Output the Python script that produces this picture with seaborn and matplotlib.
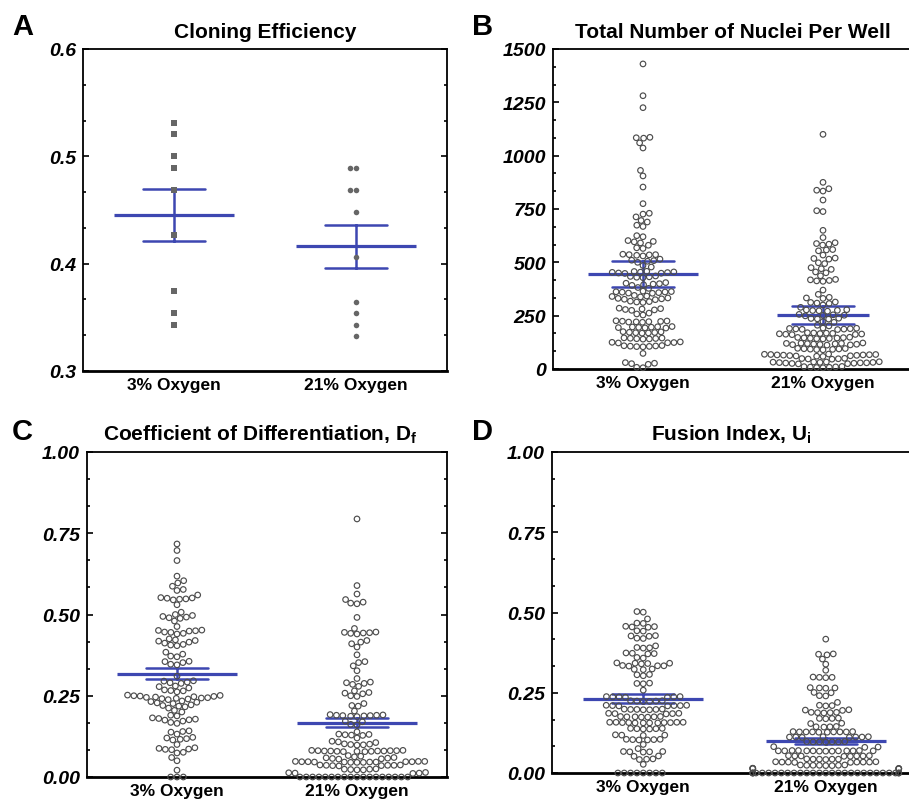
import warnings
warnings.filterwarnings("ignore")
import numpy as np
import pandas as pd
import matplotlib
matplotlib.use("Agg")
import matplotlib.pyplot as plt
from matplotlib.ticker import AutoMinorLocator
import seaborn as sns

# ---------------- data ----------------
categories = ["3% Oxygen", "21% Oxygen"]

clone_3 = [0.531, 0.521, 0.500, 0.489, 0.469, 0.427, 0.375, 0.354, 0.343]
clone_21 = [0.489, 0.489, 0.469, 0.469, 0.448, 0.406, 0.364, 0.354, 0.343, 0.333]
clone_mean = [0.4455, 0.4163]
clone_sem = [0.0243, 0.0200]

nuclei_3 = [1430, 1281, 1225, 1086, 1084, 1082, 1060, 1036, 931, 905, 853, 775,
            730, 726, 713, 696, 689, 674, 668,
            625, 620, 602, 598, 596, 591, 580, 568, 565,
            538, 536, 536, 535, 533, 530,
            515, 510, 508, 505, 500, 485, 478,
            458, 457, 455, 454, 453, 452, 450, 449, 448,
            436, 434, 432, 430, 428,
            405, 402, 400, 398, 395, 392,
            382, 378,
            365, 363, 362, 361, 360, 358, 356, 355,
            345, 342, 340, 338,
            333, 331, 329, 327, 325,
            318, 316, 314, 312,
            285, 283, 281, 279, 277, 275,
            262, 258, 253,
            226, 225, 224, 223, 222, 221, 220, 219,
            199, 198, 197, 196, 195, 194, 193, 192,
            175, 174, 172, 171, 170, 169, 168,
            146, 145, 144, 143, 142, 141, 140,
            127, 125, 124, 123, 122,
            110, 109, 108, 107, 106, 105, 104,
            73, 30, 27, 25, 22, 8, 6]
nuclei_21 = [1100, 875, 845, 838, 834, 792, 742, 738, 650,
             616, 592, 588, 585, 581, 560, 558, 554, 534, 520, 518, 515, 498, 494,
             475, 470, 467, 455, 451,
             437, 420, 418, 415, 413, 411,
             370, 350, 336, 333, 331,
             314, 312, 309, 307, 300, 289,
             278, 277, 275, 274, 273, 271,
             256, 254, 252, 251, 249,
             238, 237, 235, 234, 222, 219,
             205, 202,
             192, 191, 190, 189, 188, 187, 186, 185,
             170, 169, 168, 167, 166, 165, 164, 163, 162, 161,
             149, 148, 147, 146, 145, 144, 143, 142, 141,
             122, 121, 120, 120, 119, 118, 117, 116, 115, 114, 113, 112,
             97, 96, 95, 94, 93, 92, 91, 90,
             70, 69, 68, 68, 67, 66, 66, 65, 64, 63, 62, 61, 60, 59,
             50, 49, 48, 47, 46,
             34, 33, 33, 32, 31, 31, 30, 29, 29, 28, 27, 26, 25, 24,
             12, 11, 10, 9, 8, 7, 6]
nuclei_mean = [444, 254]
nuclei_sem = [60, 41]

diff_3 = [0.717, 0.697, 0.666, 0.618, 0.604, 0.597, 0.587, 0.577, 0.574,
          0.560, 0.552, 0.550, 0.548, 0.547, 0.545, 0.551,
          0.530, 0.507,
          0.497, 0.494, 0.490, 0.488, 0.492, 0.500, 0.480,
          0.463, 0.452, 0.450, 0.446, 0.442, 0.440, 0.445, 0.449, 0.451,
          0.425, 0.422, 0.418, 0.412, 0.408, 0.404, 0.406, 0.415, 0.420,
          0.384, 0.378, 0.372, 0.370,
          0.356, 0.352, 0.347, 0.345, 0.355,
          0.310,
          0.295, 0.290, 0.288, 0.292, 0.296, 0.280, 0.278, 0.274,
          0.268, 0.265, 0.262, 0.266,
          0.252, 0.250, 0.248, 0.246, 0.244, 0.242, 0.240, 0.238, 0.241, 0.243,
          0.245, 0.247, 0.249, 0.251,
          0.234, 0.232, 0.230, 0.228, 0.226,
          0.222, 0.220, 0.218, 0.216, 0.212,
          0.205, 0.200,
          0.190, 0.188, 0.182, 0.180, 0.178, 0.176, 0.175, 0.172,
          0.168, 0.165,
          0.142, 0.140, 0.138,
          0.132, 0.122, 0.120, 0.118, 0.116, 0.114,
          0.100,
          0.090, 0.088, 0.086, 0.085, 0.084,
          0.076, 0.074, 0.060,
          0.050, 0.021,
          0.0, 0.0, 0.0]
diff_21 = [0.794, 0.589, 0.563, 0.546, 0.535, 0.533, 0.538, 0.491,
           0.457, 0.446, 0.444, 0.442, 0.440, 0.445, 0.443,
           0.420, 0.415, 0.410, 0.400,
           0.376, 0.355, 0.352, 0.342, 0.327,
           0.303, 0.292, 0.290, 0.288, 0.285, 0.279,
           0.265, 0.260, 0.258, 0.256, 0.250, 0.248,
           0.226, 0.220, 0.218, 0.203,
           0.192, 0.191, 0.190, 0.189, 0.188, 0.187, 0.186, 0.190, 0.189,
           0.172, 0.170, 0.162, 0.160,
           0.139, 0.132, 0.130, 0.128, 0.131, 0.129, 0.120,
           0.108, 0.106, 0.110, 0.100, 0.098, 0.102, 0.101, 0.099,
           0.082, 0.081, 0.080, 0.079, 0.078, 0.080, 0.081, 0.079, 0.082, 0.080,
           0.078, 0.081, 0.080, 0.079,
           0.066, 0.064, 0.062, 0.060, 0.058, 0.056, 0.055, 0.057, 0.059,
           0.048, 0.047, 0.046, 0.045, 0.047, 0.046, 0.048, 0.045, 0.047, 0.046,
           0.045, 0.048, 0.047, 0.046,
           0.036, 0.035, 0.037, 0.034, 0.036, 0.035, 0.037, 0.036,
           0.024, 0.022, 0.025, 0.023, 0.024, 0.022,
           0.013, 0.012, 0.011, 0.014, 0.012,
           0.0, 0.0, 0.0, 0.0, 0.0, 0.0, 0.0, 0.0, 0.0, 0.0, 0.0, 0.0, 0.0, 0.0,
           0.0, 0.0, 0.0, 0.0]
diff_mean = [0.3175, 0.1675]
diff_sem = [0.0165, 0.0135]

fusion_3 = [0.501, 0.503, 0.480, 0.467, 0.466, 0.456, 0.455, 0.457, 0.454,
            0.443, 0.442, 0.427, 0.426, 0.428, 0.420, 0.419, 0.396,
            0.390, 0.389, 0.391, 0.373, 0.372, 0.374, 0.371, 0.360, 0.358,
            0.342, 0.341, 0.343, 0.340, 0.342, 0.334, 0.333, 0.335, 0.334,
            0.323, 0.322, 0.324, 0.307, 0.306, 0.303, 0.279, 0.278, 0.280, 0.258,
            0.237, 0.236, 0.238, 0.237, 0.236, 0.238, 0.237,
            0.224, 0.225, 0.223, 0.224, 0.225, 0.223,
            0.210, 0.211, 0.209, 0.210, 0.211, 0.209, 0.210,
            0.198, 0.197, 0.199, 0.198, 0.197, 0.199, 0.198,
            0.185, 0.186, 0.184, 0.185, 0.186,
            0.175, 0.174, 0.176, 0.175, 0.174, 0.176, 0.175,
            0.157, 0.158, 0.156, 0.157, 0.158, 0.156, 0.157, 0.158, 0.156, 0.157,
            0.158, 0.156,
            0.138, 0.139, 0.137, 0.138, 0.139, 0.137,
            0.118, 0.119, 0.117, 0.118,
            0.104, 0.105, 0.103, 0.104, 0.105, 0.103,
            0.089, 0.076,
            0.066, 0.067, 0.065, 0.066, 0.067,
            0.052, 0.053, 0.043, 0.044, 0.042, 0.027,
            0.0, 0.0, 0.0, 0.0, 0.0, 0.0, 0.0, 0.0]
fusion_21 = [0.417, 0.371, 0.370, 0.368, 0.355, 0.339, 0.320,
             0.298, 0.299, 0.297, 0.298,
             0.265, 0.266, 0.264, 0.265,
             0.250, 0.251, 0.240, 0.241, 0.220,
             0.210, 0.211, 0.209, 0.196, 0.197, 0.195,
             0.188, 0.189, 0.187, 0.188, 0.189,
             0.170, 0.171, 0.169, 0.170,
             0.154, 0.155, 0.144, 0.145, 0.143, 0.144,
             0.128, 0.128, 0.129, 0.127, 0.128, 0.128, 0.129, 0.127, 0.128, 0.128,
             0.112, 0.112, 0.113, 0.111, 0.112, 0.112, 0.113, 0.111,
             0.097, 0.097, 0.098, 0.096, 0.097, 0.097, 0.098,
             0.081, 0.082, 0.080,
             0.069, 0.069, 0.070, 0.068, 0.069, 0.069, 0.070, 0.068, 0.069, 0.069,
             0.070, 0.068, 0.069, 0.069,
             0.053, 0.053, 0.054, 0.052, 0.053, 0.053, 0.054, 0.052,
             0.043, 0.043, 0.044, 0.042, 0.043, 0.043,
             0.034, 0.034, 0.035, 0.033, 0.034, 0.034, 0.035, 0.033, 0.034,
             0.024, 0.024, 0.025, 0.023, 0.024, 0.024, 0.025, 0.023,
             0.014, 0.014, 0.015, 0.013, 0.014, 0.014,
             0.0, 0.0, 0.0, 0.0, 0.0, 0.0, 0.0, 0.0, 0.0, 0.0, 0.0, 0.0, 0.0, 0.0,
             0.0, 0.0, 0.0, 0.0, 0.0, 0.0, 0.0, 0.0, 0.0, 0.0, 0.0, 0.0, 0.0, 0.0]
fusion_mean = [0.232, 0.100]
fusion_sem = [0.013, 0.010]

# ---------------- style ----------------
sns.set_style("white")
plt.rcParams["font.family"] = ["Liberation Sans", "DejaVu Sans"]
plt.rcParams["mathtext.fontset"] = "custom"
plt.rcParams["mathtext.rm"] = "Liberation Sans"
plt.rcParams["mathtext.bf"] = "Liberation Sans:bold"
plt.rcParams["mathtext.it"] = "Liberation Sans:italic"
for key in ["text.color", "axes.labelcolor", "xtick.color", "ytick.color",
            "axes.edgecolor"]:
    plt.rcParams[key] = "black"

W, H = 909, 803
fig = plt.figure(figsize=(W / 100, H / 100), dpi=100)
fig.patch.set_facecolor("white")

BLUE = "#3D47B1"
EDGE = "#4d4d4d"
SWARM_SIZE = 3.5     # spacing used by the beeswarm layout
DRAW_SIZE = 4.0      # ring size actually drawn (rings may touch, like the original)
hollow_collections = []


def add_ax(l, t, r, b):
    return fig.add_axes([l / W, 1 - b / H, (r - l) / W, (b - t) / H])


def frame(v3, v21):
    return pd.DataFrame({"group": [categories[0]] * len(v3) + [categories[1]] * len(v21),
                         "value": list(v3) + list(v21)})


def hollow_swarm(ax, v3, v21):
    sns.swarmplot(data=frame(v3, v21), x="group", y="value", order=categories,
                  size=SWARM_SIZE, color="white", edgecolor=EDGE, linewidth=0.85,
                  ax=ax)
    for c in ax.collections:
        c.set_facecolor("none")
        c.set_edgecolor(EDGE)
        c.set_clip_on(False)
        hollow_collections.append(c)


def summary(ax, means, sems, widths_px):
    for i, cat in enumerate(categories):
        d = pd.DataFrame({"group": [cat, cat],
                          "value": [means[i] - sems[i], means[i] + sems[i]]})
        sns.pointplot(data=d, x="group", y="value", order=categories,
                      estimator="mean", errorbar=("pi", 100), capsize=0.34,
                      marker="_", markersize=widths_px[i] / 1.389,
                      markeredgewidth=2.3, linestyle="none", color=BLUE,
                      err_kws={"linewidth": 1.8}, ax=ax)


def style(ax, ylim, yticks, ylabels, title, tx=0.5, right_ticks=True):
    ax.set_xlim(-0.5, 1.5)
    ax.set_ylim(*ylim)
    ax.set_yticks(yticks)
    ax.set_yticklabels(ylabels, fontsize=14, fontweight="bold", fontstyle="italic",
                       color="black")
    ax.yaxis.set_minor_locator(AutoMinorLocator(3))
    ax.set_xticks([0, 1])
    ax.set_xticklabels(categories, fontsize=12.5, fontweight="bold", color="black")
    ax.set_xlabel("")
    ax.set_ylabel("")
    ax.tick_params(axis="y", which="both", direction="in", left=True,
                   right=right_ticks, width=1.2, color="black", pad=5)
    ax.tick_params(axis="y", which="major", length=4)
    ax.tick_params(axis="y", which="minor", length=2.5)
    ax.tick_params(axis="x", length=0, pad=4)
    for s in ["left", "right", "top"]:
        ax.spines[s].set_linewidth(1.3)
        ax.spines[s].set_color("black")
    ax.spines["bottom"].set_linewidth(2.0)
    ax.spines["bottom"].set_color("black")
    ax.set_title(title, fontsize=15, fontweight="bold", pad=9, color="black", x=tx)


# Panel A
axA = add_ax(83, 50, 447, 372)
sns.swarmplot(x=[categories[0]] * len(clone_3), y=clone_3, order=categories,
              marker="s", size=4.6, color="#666666", linewidth=0, ax=axA)
sns.swarmplot(x=[categories[1]] * len(clone_21), y=clone_21, order=categories,
              marker="o", size=4.0, color="#666666", linewidth=0, ax=axA)
summary(axA, clone_mean, clone_sem, [121, 121])
style(axA, (0.3, 0.6), [0.3, 0.4, 0.5, 0.6], ["0.3", "0.4", "0.5", "0.6"],
      "Cloning Efficiency")

# Panel B
axB = add_ax(553, 50, 913, 370)
hollow_swarm(axB, nuclei_3, nuclei_21)
summary(axB, nuclei_mean, nuclei_sem, [110, 92])
style(axB, (0, 1500), [0, 250, 500, 750, 1000, 1250, 1500],
      ["0", "250", "500", "750", "1000", "1250", "1500"],
      "Total Number of Nuclei Per Well", right_ticks=False)

# Panel C
axC = add_ax(87, 453, 447, 778)
hollow_swarm(axC, diff_3, diff_21)
summary(axC, diff_mean, diff_sem, [121, 121])
style(axC, (0, 1), [0, 0.25, 0.5, 0.75, 1.0],
      ["0.00", "0.25", "0.50", "0.75", "1.00"],
      r"Coefficient of Differentiation, D$_\mathbf{f}$", tx=0.48)

# Panel D
axD = add_ax(552, 453, 917, 774)
hollow_swarm(axD, fusion_3, fusion_21)
summary(axD, fusion_mean, fusion_sem, [121, 121])
style(axD, (0, 1), [0, 0.25, 0.5, 0.75, 1.0],
      ["0.00", "0.25", "0.50", "0.75", "1.00"],
      r"Fusion Index, U$_\mathbf{i}$", tx=0.49, right_ticks=False)

# panel letters
for letter, x, y in [("A", 12, 35), ("B", 472, 35), ("C", 12, 440), ("D", 472, 440)]:
    fig.text(x / W, 1 - y / H, letter, fontsize=21, fontweight="bold",
             ha="left", va="baseline", color="black")

# let seaborn lay out the swarms, then freeze positions and draw the rings larger
fig.canvas.draw()
for c in hollow_collections:
    if "draw" in c.__dict__:
        del c.draw
    c.set_sizes([DRAW_SIZE ** 2])

fig.savefig("out.png", dpi=100, facecolor="white")
